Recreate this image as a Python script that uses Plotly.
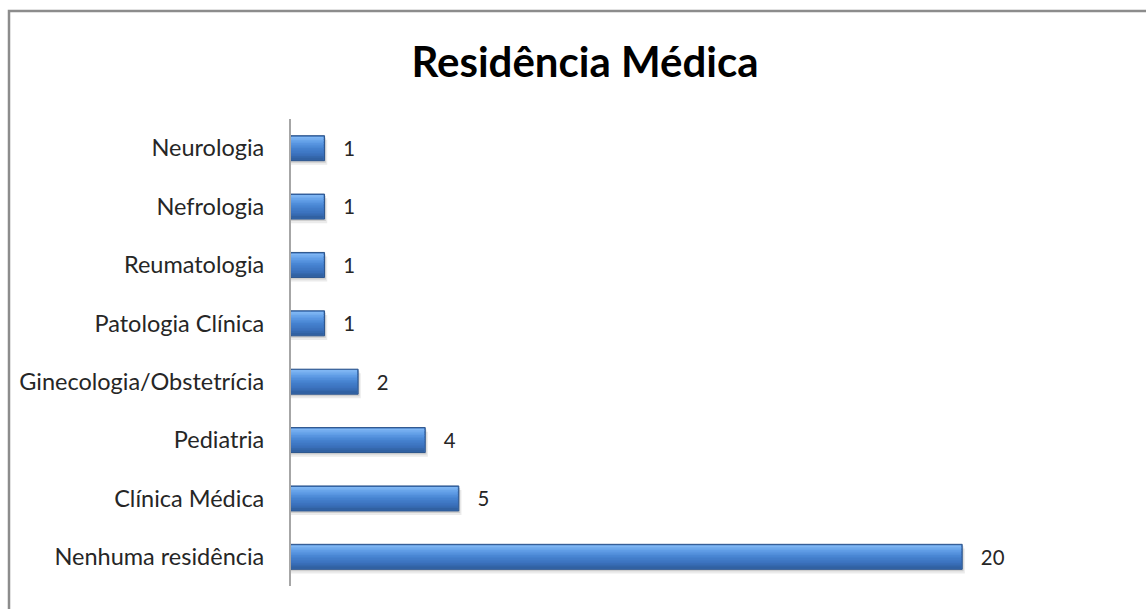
import plotly.graph_objects as go

# Data (bottom to top)
categorias = ["Nenhuma residência", "Clínica Médica", "Pediatria",
              "Ginecologia/Obstetrícia", "Patologia Clínica", "Reumatologia",
              "Nefrologia", "Neurologia"]
valores = [20, 5, 4, 2, 1, 1, 1, 1]
titulo = "Residência Médica"

W, H = 1146, 609
ML, MR, MT, MB = 291, 16, 119, 23
XMAX = 25
half = 0.214  # half bar thickness in category units

FONT = "Lato"

fig = go.Figure()

def layer(xs, offset, width, color, line_color=None, line_width=0, text=None):
    fig.add_trace(go.Bar(
        y=categorias, x=xs, orientation="h", base=0,
        offset=offset, width=width,
        marker=dict(color=color,
                    line=dict(color=line_color or color, width=line_width)),
        text=text, textposition="outside" if text else None,
        texttemplate="   %{text}" if text else None,
        textfont=dict(family=FONT, size=22, color="#262626"),
        cliponaxis=False, hoverinfo="skip", showlegend=False,
    ))

# drop shadow
layer([v + 0.08 for v in valores], -half - 0.07, 2 * half, "rgba(0,0,0,0.08)")
layer([v + 0.04 for v in valores], -half - 0.035, 2 * half, "rgba(0,0,0,0.12)")

# bar body, shaded top (light) to bottom (dark) in thin strips
layer(valores, -half, 2 * half, "#3a6fb8", "#2b548c", 1)

def mix(c1, c2, t):
    a = [int(c1[i:i + 2], 16) for i in (1, 3, 5)]
    b = [int(c2[i:i + 2], 16) for i in (1, 3, 5)]
    return "#" + "".join(f"{round(x + (y - x) * t):02x}" for x, y in zip(a, b))

stops = [(0.0, "#84baf5"), (0.22, "#63a0e8"), (0.5, "#4683d1"),
         (0.8, "#3a70bb"), (1.0, "#2f5e9c")]
n = 14
inner = 2 * half - 0.04
for k in range(n):
    t = (k + 0.5) / n
    for j in range(len(stops) - 1):
        if stops[j][0] <= t <= stops[j + 1][0]:
            u = (t - stops[j][0]) / (stops[j + 1][0] - stops[j][0])
            col = mix(stops[j][1], stops[j + 1][1], u)
            break
    off = half - 0.02 - (k + 1) * inner / n
    layer([v - 0.03 for v in valores], off, inner / n + 0.002, col)

# value labels carried by a transparent top layer
layer(valores, -half, 2 * half, "rgba(0,0,0,0)", text=[str(v) for v in valores])

fig.update_layout(
    width=W, height=H,
    margin=dict(l=ML, r=MR, t=MT, b=MB),
    barmode="overlay",
    paper_bgcolor="white", plot_bgcolor="white",
    title=dict(text=titulo, x=585 / W, xref="container", xanchor="center",
               y=1 - 62 / H, yref="container", yanchor="middle",
               font=dict(family=FONT, size=42, color="#000000", weight="bold")),
    xaxis=dict(range=[0, XMAX], visible=False),
    yaxis=dict(showline=True, linecolor="#a6a6a6", linewidth=2,
               showgrid=False, zeroline=False, ticks="",
               ticklabelstandoff=20,
               tickfont=dict(family=FONT, size=23.5, color="#262626"),
               categoryorder="array", categoryarray=categorias),
)

# chart frame
pw = W - ML - MR
ph = H - MT - MB
def px_x(x):
    return (x - ML) / pw
def px_y(y):
    return (H - MB - y) / ph

fig.add_shape(type="rect", xref="paper", yref="paper",
              x0=px_x(9), x1=px_x(1160), y0=px_y(620), y1=px_y(11),
              line=dict(color="#8c8c8c", width=2.5), fillcolor="rgba(0,0,0,0)",
              layer="below")

fig.write_html("out.html")
